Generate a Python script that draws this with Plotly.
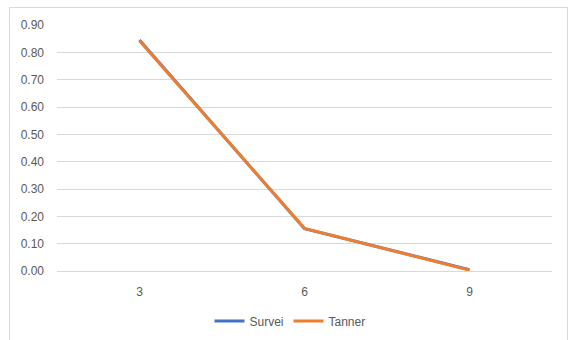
import plotly.graph_objects as go

categories = ["3", "6", "9"]
survei = [0.845, 0.155, 0.005]
tanner = [0.842, 0.156, 0.003]
y_ticks = [0.0, 0.1, 0.2, 0.3, 0.4, 0.5, 0.6, 0.7, 0.8, 0.9]

font = dict(family="Liberation Sans, Arial, sans-serif", size=12, color="#595959")

fig = go.Figure()
fig.add_trace(go.Scatter(x=categories, y=survei, mode="lines", name="Survei",
                         line=dict(color="#4472C4", width=3)))
fig.add_trace(go.Scatter(x=categories, y=tanner, mode="lines", name="Tanner",
                         line=dict(color="#ED7D31", width=3)))

fig.update_layout(
    width=569, height=340,
    margin=dict(l=57, r=17, t=25, b=69),
    paper_bgcolor="white", plot_bgcolor="white",
    font=font,
    showlegend=True,
    legend=dict(orientation="h", xref="container", yref="container",
                x=290 / 569, xanchor="center", y=(340 - 321) / 340, yanchor="middle",
                font=font, itemwidth=30, tracegroupgap=0),
    xaxis=dict(type="category", range=[-0.5, 2.5], showgrid=False, showline=False,
               ticks="", tickfont=font, ticklabelstandoff=12, automargin=False),
    yaxis=dict(range=[0, 0.9], tickvals=y_ticks, tickformat=".2f", showgrid=True,
               gridcolor="#d9d9d9", gridwidth=1, zeroline=True, zerolinecolor="#d9d9d9",
               zerolinewidth=1, showline=False, ticks="", tickfont=font,
               ticklabelstandoff=12, automargin=False),
    shapes=[dict(type="rect", xref="paper", yref="paper",
                 x0=(9.5 - 57) / 495, x1=(567.5 - 57) / 495,
                 y0=(271 - 360) / 246, y1=(271 - 7.5) / 246,
                 line=dict(color="#d9d9d9", width=1), layer="below")],
)

fig.write_html("out.html")
